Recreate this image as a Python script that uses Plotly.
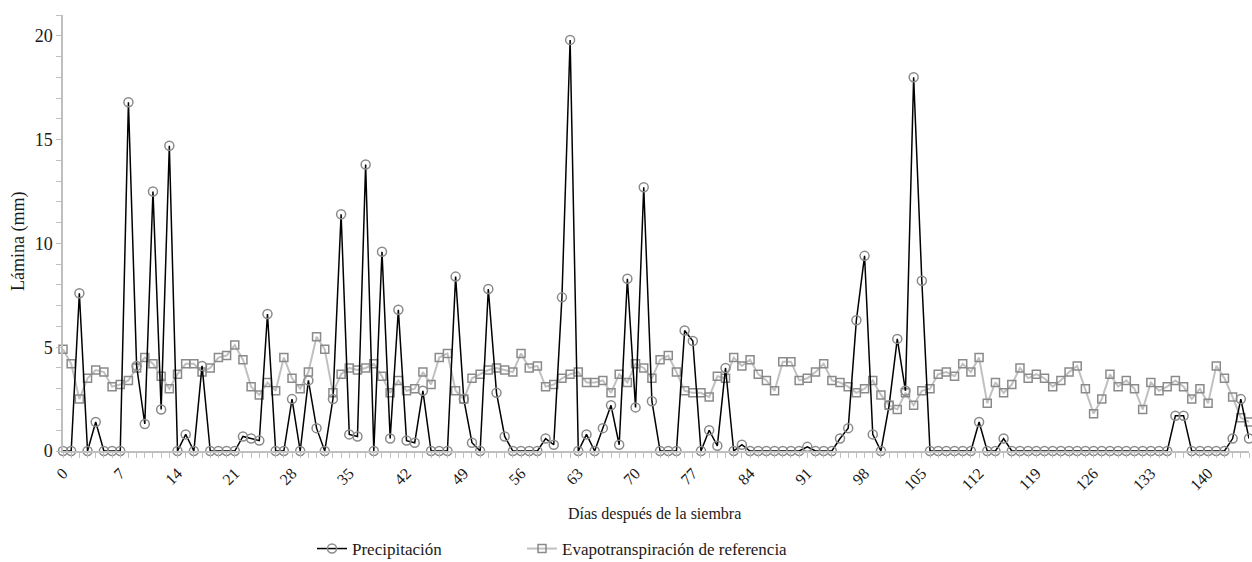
import plotly.graph_objects as go

days = list(range(146))

precipitacion = [
    0, 0, 7.6, 0, 1.4, 0, 0, 0, 16.8, 4.1,
    1.3, 12.5, 2.0, 14.7, 0, 0.8, 0, 4.1, 0, 0,
    0, 0, 0.7, 0.6, 0.5, 6.6, 0, 0, 2.5, 0,
    3.4, 1.1, 0, 2.5, 11.4, 0.8, 0.7, 13.8, 0, 9.6,
    0.6, 6.8, 0.5, 0.4, 2.9, 0, 0, 0, 8.4, 2.5,
    0.4, 0, 7.8, 2.8, 0.7, 0, 0, 0, 0, 0.6,
    0.3, 7.4, 19.8, 0, 0.8, 0, 1.1, 2.2, 0.3, 8.3,
    2.1, 12.7, 2.4, 0, 0, 0, 5.8, 5.3, 0, 1.0,
    0.25, 4.0, 0, 0.3, 0, 0, 0, 0, 0, 0,
    0, 0.2, 0, 0, 0, 0.6, 1.1, 6.3, 9.4, 0.8,
    0, 2.2, 5.4, 2.9, 18.0, 8.2, 0, 0, 0, 0,
    0, 0, 1.4, 0, 0, 0.6, 0, 0, 0, 0,
    0, 0, 0, 0, 0, 0, 0, 0, 0, 0,
    0, 0, 0, 0, 0, 0, 1.7, 1.7, 0, 0,
    0, 0, 0, 0.6, 2.5, 0.6,
]

evapotranspiracion = [
    4.9, 4.2, 2.5, 3.5, 3.9, 3.8, 3.1, 3.2, 3.4, 4.0,
    4.5, 4.2, 3.6, 3.0, 3.7, 4.2, 4.2, 3.8, 4.0, 4.5,
    4.6, 5.1, 4.4, 3.1, 2.7, 3.3, 2.9, 4.5, 3.5, 3.0,
    3.8, 5.5, 4.9, 2.8, 3.7, 4.0, 3.9, 4.0, 4.2, 3.6,
    2.8, 3.4, 2.9, 3.0, 3.8, 3.2, 4.5, 4.7, 2.9, 2.5,
    3.5, 3.7, 3.9, 4.0, 3.9, 3.8, 4.7, 4.0, 4.1, 3.1,
    3.2, 3.5, 3.7, 3.8, 3.3, 3.3, 3.4, 2.8, 3.7, 3.3,
    4.2, 4.0, 3.5, 4.4, 4.6, 3.8, 2.9, 2.8, 2.8, 2.6,
    3.6, 3.5, 4.5, 4.1, 4.4, 3.7, 3.4, 2.9, 4.3, 4.3,
    3.4, 3.5, 3.8, 4.2, 3.4, 3.3, 3.1, 2.8, 3.0, 3.4,
    2.7, 2.2, 2.0, 2.8, 2.2, 2.9, 3.0, 3.7, 3.8, 3.6,
    4.2, 3.8, 4.5, 2.3, 3.3, 2.8, 3.2, 4.0, 3.5, 3.7,
    3.5, 3.1, 3.4, 3.8, 4.1, 3.0, 1.8, 2.5, 3.7, 3.1,
    3.4, 3.0, 2.0, 3.3, 2.9, 3.1, 3.4, 3.1, 2.5, 3.0,
    2.3, 4.1, 3.5, 2.6, 1.6, 1.4,
]

x_ticks = [0, 7, 14, 21, 28, 35, 42, 49, 56, 63, 70, 77, 84, 91, 98, 105, 112, 119, 126, 133, 140]
y_ticks = [0, 5, 10, 15, 20]

FONT = "Liberation Serif, Times New Roman, serif"
AXIS_GRAY = "#bfbfbf"
TXT = "#1a1a1a"

W, H = 1252, 562
L, R, T, B = 63, 3, 15, 111
PW, PH = W - L - R, H - T - B


def px_x(px):
    return (px - L) / PW


def px_y(py):
    return (H - B - py) / PH


fig = go.Figure()

fig.add_trace(go.Scatter(
    x=days, y=evapotranspiracion, mode="lines+markers",
    name="Evapotranspiración de referencia", legend="legend2",
    line=dict(color="#c0c0c0", width=2),
    marker=dict(symbol="square", size=8, color="rgba(255,255,255,0)",
                line=dict(color="#8a8a8a", width=1.5)),
    cliponaxis=False,
))

fig.add_trace(go.Scatter(
    x=days, y=precipitacion, mode="lines+markers",
    name="Precipitación", legend="legend",
    line=dict(color="#000000", width=1.5),
    marker=dict(symbol="circle", size=9, color="rgba(255,255,255,0)",
                line=dict(color="#8a8a8a", width=1.5)),
    cliponaxis=False,
))

legend_common = dict(
    orientation="h", yanchor="middle", y=px_y(549), xanchor="left",
    font=dict(family=FONT, size=17, color=TXT), bgcolor="rgba(0,0,0,0)",
)

fig.update_layout(
    width=W, height=H,
    margin=dict(l=L, r=R, t=T, b=B, autoexpand=False),
    paper_bgcolor="white", plot_bgcolor="white",
    font=dict(family=FONT, size=16, color=TXT),
    showlegend=True,
    legend=dict(x=px_x(312), **legend_common),
    legend2=dict(x=px_x(522), **legend_common),
    xaxis=dict(
        range=[0, 145], showgrid=False, zeroline=False, automargin=False,
        showline=True, linecolor=AXIS_GRAY, linewidth=1.5,
        tickmode="array", tickvals=x_ticks, ticktext=[str(v) for v in x_ticks],
        tickangle=-45, ticks="outside", ticklen=5, tickcolor=AXIS_GRAY,
        minor=dict(dtick=1, tick0=0, ticks="outside", ticklen=5, tickcolor=AXIS_GRAY, showgrid=False),
        tickfont=dict(family=FONT, size=16, color=TXT),
    ),
    yaxis=dict(
        range=[0, 21], showgrid=False, zeroline=False, automargin=False,
        showline=True, linecolor=AXIS_GRAY, linewidth=1.5,
        tickmode="array", tickvals=y_ticks, ticktext=[str(v) for v in y_ticks],
        ticks="outside", ticklen=5, tickcolor=AXIS_GRAY,
        minor=dict(dtick=1, tick0=0, ticks="outside", ticklen=5, tickcolor=AXIS_GRAY, showgrid=False),
        tickfont=dict(family=FONT, size=18, color=TXT),
    ),
    annotations=[
        dict(text="Lámina (mm)", xref="paper", yref="paper",
             x=px_x(18), y=px_y(242), xanchor="center", yanchor="middle",
             textangle=-90, showarrow=False,
             font=dict(family=FONT, size=18, color=TXT)),
        dict(text="Días después de la siembra", xref="paper", yref="paper",
             x=px_x(654), y=px_y(514), xanchor="center", yanchor="middle",
             showarrow=False, font=dict(family=FONT, size=16, color=TXT)),
    ],
)

fig.write_html(
    "out.html",
    config={"displayModeBar": False},
    post_script="document.body.style.margin='0';document.body.style.overflow='hidden';",
)
